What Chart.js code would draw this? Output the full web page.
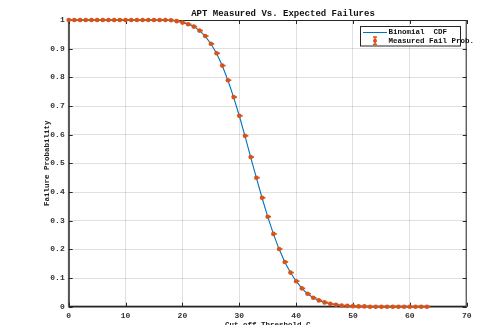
<!DOCTYPE html>
<html>
<head>
<meta charset="utf-8">
<script src="https://cdn.jsdelivr.net/npm/chart.js@4.4.0/dist/chart.umd.min.js"></script>
<style>
html,body{margin:0;padding:0;background:#fff;}
#wrap{width:477px;height:325px;}
</style>
</head>
<body>
<div id="wrap"><canvas id="c" width="477" height="325"></canvas></div>
<script>
const thresholds = [0,1,2,3,4,5,6,7,8,9,10,11,12,13,14,15,16,17,18,19,20,21,22,23,24,25,26,27,28,29,30,31,32,33,34,35,36,37,38,39,40,41,42,43,44,45,46,47,48,49,50,51,52,53,54,55,56,57,58,59,60,61,62,63];
const binomialCdf = [1,1,1,1,1,1,1,1,1,1,1,1,1,1,1,1,1,1,0.999,0.996,0.991,0.985,0.977,0.963,0.944,0.917,0.884,0.841,0.790,0.731,0.666,0.596,0.522,0.450,0.380,0.314,0.254,0.201,0.156,0.119,0.089,0.064,0.045,0.031,0.022,0.015,0.010,0.007,0.004,0.003,0.002,0.001,0.001,0,0,0,0,0,0,0,0,0,0,0];
const measuredFail = [1,1,1,1,1,1,1,1,1,1,1,1,1,1,1,1,1,1,0.999,0.996,0.991,0.985,0.977,0.963,0.944,0.917,0.884,0.841,0.790,0.731,0.666,0.596,0.522,0.450,0.380,0.314,0.254,0.201,0.156,0.119,0.089,0.064,0.045,0.031,0.022,0.015,0.010,0.007,0.004,0.003,0.002,0.001,0.001,0,0,0,0,0,0,0,0,0,0,0];
const xTicks = [0,10,20,30,40,50,60,70];
const yTicks = [0,0.1,0.2,0.3,0.4,0.5,0.6,0.7,0.8,0.9,1];
const titleText = 'APT Measured Vs. Expected Failures';
const xLabel = 'Cut-off Threshold C';
const yLabel = 'Failure Probability';
const legendLabels = ['Binomial  CDF', 'Measured Fail Prob.'];

const BLUE = '#0072BD', ORANGE = '#D95319', AX = '#262626';
const FONT = '"Liberation Mono", "DejaVu Sans Mono", monospace';

const pts = a => thresholds.map((x,i)=>({x:x,y:a[i]}));

const deco = {
  id:'deco',
  beforeDatasetsDraw(chart){
    const ctx = chart.ctx, a = chart.chartArea;
    const xs = chart.scales.x, ys = chart.scales.y;
    ctx.save();
    ctx.strokeStyle = AX; ctx.lineWidth = 1;
    ctx.beginPath();
    ctx.rect(a.left+0.5, a.top+0.5, a.right-a.left-1, a.bottom-a.top-1);
    ctx.stroke();
    ctx.lineWidth = 1.6; ctx.strokeStyle = '#555';
    ctx.beginPath(); ctx.moveTo(a.left, a.top); ctx.lineTo(a.left, a.bottom); ctx.stroke();
    ctx.lineWidth = 1.6; ctx.strokeStyle = AX;
    ctx.beginPath(); ctx.moveTo(a.left, a.bottom); ctx.lineTo(a.right, a.bottom); ctx.stroke();
    ctx.lineWidth = 1; ctx.strokeStyle = AX;
    const tl = 4;
    xTicks.forEach(v=>{
      const px = Math.round(xs.getPixelForValue(v))+0.5;
      ctx.beginPath();
      ctx.moveTo(px, a.bottom); ctx.lineTo(px, a.bottom-tl);
      ctx.moveTo(px, a.top); ctx.lineTo(px, a.top+tl);
      ctx.stroke();
    });
    yTicks.forEach(v=>{
      const py = Math.round(ys.getPixelForValue(v))+0.5;
      ctx.beginPath();
      ctx.moveTo(a.left, py); ctx.lineTo(a.left+tl, py);
      ctx.moveTo(a.right, py); ctx.lineTo(a.right-tl, py);
      ctx.stroke();
    });
    ctx.restore();
  },
  afterDraw(chart){
    const ctx = chart.ctx, a = chart.chartArea;
    ctx.save();
    ctx.fillStyle = '#111';
    ctx.font = 'bold 9px ' + FONT;
    ctx.textAlign = 'center'; ctx.textBaseline = 'middle';
    ctx.fillText(titleText, 283, 14);
    ctx.font = 'bold 7.5px ' + FONT;
    ctx.fillStyle = '#222';
    ctx.fillText(xLabel, (a.left+a.right)/2, 325.5);
    ctx.save();
    ctx.translate(47, (a.top+a.bottom)/2);
    ctx.rotate(-Math.PI/2);
    ctx.fillText(yLabel, 0, 0);
    ctx.restore();
    const lx = 360.5, ly = 26.5, lw = 100, lh = 19.5;
    ctx.fillStyle = '#fff';
    ctx.fillRect(lx, ly, lw, lh);
    ctx.strokeStyle = AX; ctx.lineWidth = 1;
    ctx.strokeRect(lx, ly, lw, lh);
    ctx.strokeStyle = BLUE; ctx.lineWidth = 1;
    ctx.beginPath(); ctx.moveTo(363, 32.5); ctx.lineTo(387, 32.5); ctx.stroke();
    ctx.strokeStyle = ORANGE; ctx.lineWidth = 1.5;
    ctx.beginPath();
    ctx.moveTo(375, 37); ctx.lineTo(375, 44.5);
    ctx.moveTo(373, 37); ctx.lineTo(377, 37);
    ctx.moveTo(373, 44.5); ctx.lineTo(377, 44.5);
    ctx.stroke();
    ctx.fillStyle = ORANGE;
    ctx.beginPath(); ctx.arc(375, 40.7, 2, 0, Math.PI*2); ctx.fill();
    ctx.fillStyle = '#111';
    ctx.font = 'bold 7.5px ' + FONT;
    ctx.textAlign = 'left';
    ctx.fillText(legendLabels[0], 388.5, 32.5);
    ctx.fillText(legendLabels[1], 388.5, 41);
    ctx.restore();
  }
};

new Chart(document.getElementById('c'), {
  type:'scatter',
  data:{
    datasets:[
      {label:legendLabels[1], data:pts(measuredFail), showLine:false, clip:false, pointStyle:'circle', pointRadius:2.3, pointBackgroundColor:ORANGE, pointBorderColor:ORANGE, pointBorderWidth:0},
      {label:legendLabels[1]+' bars', data:pts(measuredFail), showLine:false, clip:false, pointStyle:'dash', pointRadius:3.4, pointBorderColor:ORANGE, pointBorderWidth:1.7},
      {label:legendLabels[0], data:pts(binomialCdf), showLine:true, clip:false, borderColor:BLUE, borderWidth:1.1, pointRadius:0, tension:0}
    ]
  },
  options:{
    responsive:false, animation:false,
    layout:{padding:{top:20, right:10.3, left:0, bottom:0}},
    plugins:{legend:{display:false}, tooltip:{enabled:false}, title:{display:false}},
    scales:{
      x:{type:'linear', min:0, max:70,
        afterBuildTicks(s){ s.ticks = xTicks.map(v=>({value:v})); },
        afterFit(s){ s.height = 18.3; },
        ticks:{padding:4, color:'#333', font:{family:FONT, size:8, weight:'bold'}, maxRotation:0, callback:v=>String(v)},
        grid:{color:'rgba(0,0,0,0.12)', drawTicks:false}, border:{display:false}},
      y:{type:'linear', min:0, max:1,
        afterBuildTicks(s){ s.ticks = yTicks.map(v=>({value:v})); },
        afterFit(s){ s.width = 68.7; },
        ticks:{padding:4, color:'#333', font:{family:FONT, size:8, weight:'bold'}, callback:v=>String(Math.round(v*10)/10)},
        grid:{color:'rgba(0,0,0,0.12)', drawTicks:false}, border:{display:false}}
    }
  },
  plugins:[deco]
});
</script>
</body>
</html>
